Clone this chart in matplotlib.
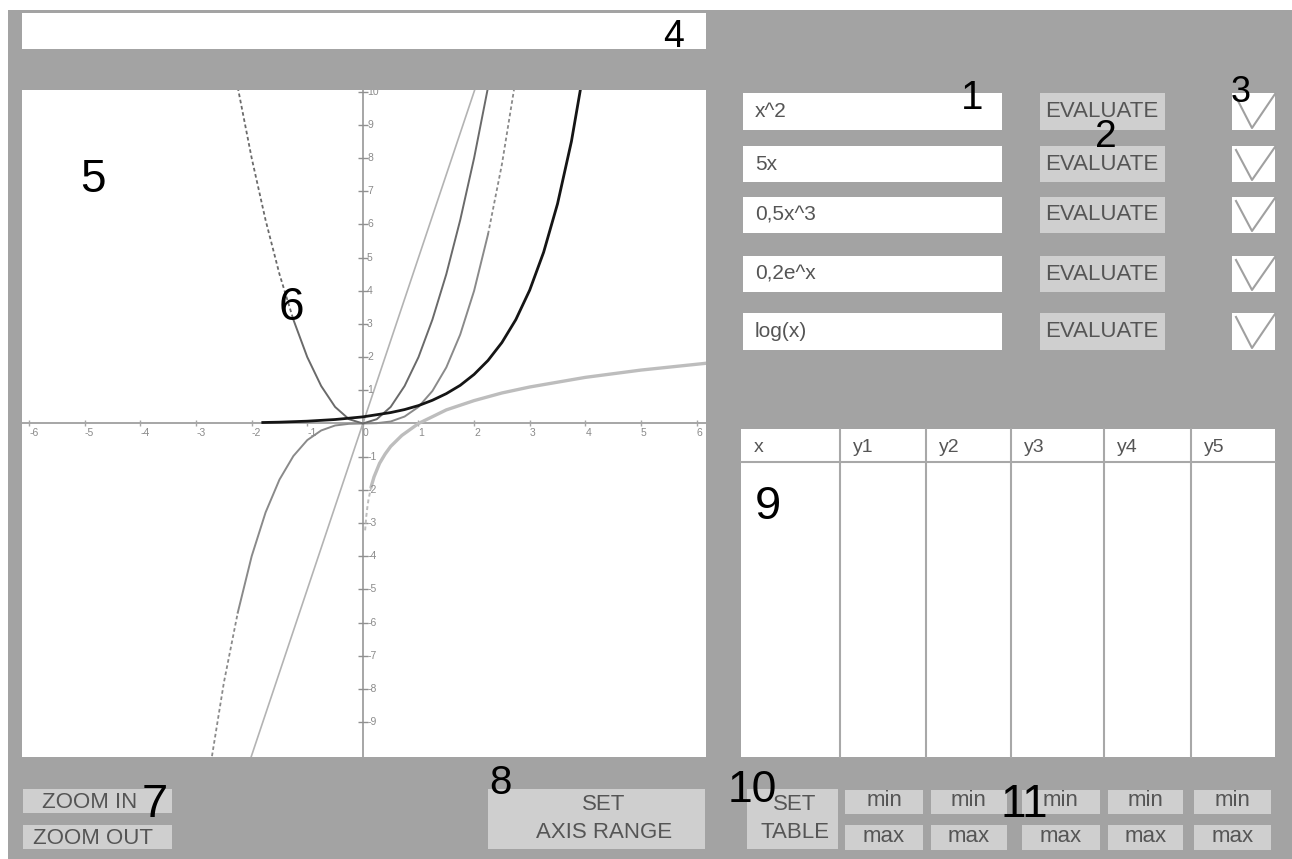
import matplotlib.pyplot as plt
from matplotlib.patches import Rectangle

plt.rcParams['font.family'] = ['Liberation Sans', 'DejaVu Sans']

# texts typed in the GUI
functions = ['x^2', '5x', '0,5x^3', '0,2e^x', 'log(x)']
table_headers = ['x', 'y1', 'y2', 'y3', 'y4', 'y5']
callouts = ['1', '2', '3', '4', '5', '6', '7', '8', '9', '10', '11']

x_ticks = [-6, -5, -4, -3, -2, -1, 0, 1, 2, 3, 4, 5, 6]
y_ticks = [-9, -8, -7, -6, -5, -4, -3, -2, -1, 1, 2, 3, 4, 5, 6, 7, 8, 9, 10]

# curves
y1_x = [-2.25, -2.0, -1.75, -1.5, -1.25, -1.0, -0.75, -0.5, -0.25, 0.0,
        0.25, 0.5, 0.75, 1.0, 1.25, 1.5, 1.75, 2.0, 2.25]
y1_y = [10.13, 8.0, 6.13, 4.5, 3.13, 2.0, 1.13, 0.5, 0.13, 0.0,
        0.13, 0.5, 1.13, 2.0, 3.13, 4.5, 6.13, 8.0, 10.13]

y2_x = [-2.1, 2.1]
y2_y = [-10.5, 10.5]

y3_x = [-2.75, -2.5, -2.25, -2.0, -1.75, -1.5, -1.25, -1.0, -0.75, -0.5, -0.25, 0.0,
        0.25, 0.5, 0.75, 1.0, 1.25, 1.5, 1.75, 2.0, 2.25, 2.5, 2.75]
y3_y = [-10.4, -7.81, -5.7, -4.0, -2.68, -1.69, -0.98, -0.5, -0.21, -0.06, -0.01, 0.0,
        0.01, 0.06, 0.21, 0.5, 0.98, 1.69, 2.68, 4.0, 5.7, 7.81, 10.4]

y4_x = [-1.8, -1.5, -1.0, -0.5, 0.0, 0.5, 0.75, 1.0, 1.25, 1.5, 1.75, 2.0,
        2.25, 2.5, 2.75, 3.0, 3.25, 3.5, 3.75, 4.0]
y4_y = [0.03, 0.04, 0.07, 0.12, 0.2, 0.33, 0.42, 0.54, 0.7, 0.9, 1.15, 1.48,
        1.9, 2.44, 3.13, 4.02, 5.16, 6.62, 8.5, 10.92]

y5_x = [0.04, 0.06, 0.08, 0.1, 0.15, 0.2, 0.3, 0.4, 0.5, 0.7, 1.0, 1.5,
        2.0, 2.5, 3.0, 4.0, 5.0, 6.2]
y5_y = [-3.22, -2.81, -2.53, -2.3, -1.9, -1.61, -1.2, -0.92, -0.69, -0.36, 0.0, 0.41,
        0.69, 0.92, 1.1, 1.39, 1.61, 1.82]

W, H = 1292, 859
BG = '#a3a3a3'
BTN = '#cfcfcf'
TXT = '#555555'
DOTS = (0, (2, 1.5))

fig = plt.figure(figsize=(W / 100, H / 100), dpi=100)
fig.patch.set_facecolor('white')

# background layer in pixel coordinates
bg = fig.add_axes([0, 0, 1, 1], zorder=0)
bg.set_xlim(0, W)
bg.set_ylim(H, 0)
bg.axis('off')


def box(ax, x0, y0, x1, y1, color, **kw):
    ax.add_patch(Rectangle((x0, y0), x1 - x0, y1 - y0, facecolor=color,
                           edgecolor='none', **kw))


box(bg, 8, 10, W, H, BG)
box(bg, 22, 13, 706, 49, 'white')

# function rows
rows = [(93, 130), (146, 182), (197, 233), (256, 292), (313, 350)]
for f, (top, bot) in zip(functions, rows):
    mid = (top + bot) / 2
    box(bg, 743, top, 1002, bot, 'white')
    bg.text(755, mid, f, fontsize=15, color=TXT, va='center', ha='left')
    box(bg, 1040, top, 1165, bot, BTN)
    bg.text(1102, mid, 'EVALUATE', fontsize=16, color=TXT, va='center', ha='center')
    box(bg, 1232, top, 1275, bot, 'white')
    bg.plot([1236, 1252, 1275], [top + 4, bot - 2, top + 1], color='#a0a0a0', lw=1.5)

# value table
box(bg, 741, 429, 1275, 757, 'white')
bg.plot([741, 1275], [462, 462], color='#a8a8a8', lw=1.5)
col_x = [741, 840, 926, 1011, 1104, 1191]
for cx, h in zip(col_x, table_headers):
    if cx > 741:
        bg.plot([cx, cx], [429, 757], color='#a8a8a8', lw=1.5)
    bg.text(cx + 13, 447, h, fontsize=14, color=TXT, va='center', ha='left')

# bottom buttons
box(bg, 23, 789, 172, 813, BTN)
bg.text(90, 802, 'ZOOM IN', fontsize=16, color=TXT, va='center', ha='center')
box(bg, 23, 825, 172, 849, BTN)
bg.text(93, 838, 'ZOOM OUT', fontsize=16, color=TXT, va='center', ha='center')
box(bg, 488, 789, 705, 849, BTN)
bg.text(604, 804, 'SET', fontsize=16, color=TXT, va='center', ha='center')
bg.text(604, 833, 'AXIS RANGE', fontsize=16, color=TXT, va='center', ha='center')
box(bg, 747, 789, 838, 849, BTN)
bg.text(795, 804, 'SET', fontsize=16, color=TXT, va='center', ha='center')
bg.text(795, 833, 'TABLE', fontsize=16, color=TXT, va='center', ha='center')
minmax_x = [(845, 923), (931, 1007), (1022, 1100), (1108, 1183), (1194, 1271)]
for x0, x1 in minmax_x:
    box(bg, x0, 790, x1, 814, BTN)
    bg.text((x0 + x1) / 2, 801, 'min', fontsize=16, color=TXT, va='center', ha='center')
    box(bg, x0, 825, x1, 850, BTN)
    bg.text((x0 + x1) / 2, 836, 'max', fontsize=16, color=TXT, va='center', ha='center')

# graph area
ax = fig.add_axes([22 / W, (H - 757) / H, 684 / W, 667 / H], zorder=1)
ax.set_facecolor('white')
ax.set_xlim(-6.13, 6.17)
ax.set_ylim(-10.05, 10.05)
for s in ax.spines.values():
    s.set_visible(False)
ax.set_xticks([])
ax.set_yticks([])

ax.axhline(0, color='#a6a6a6', lw=1.4, zorder=1)
ax.axvline(0, color='#a6a6a6', lw=1.4, zorder=1)
ax.plot(x_ticks, [0] * len(x_ticks), ls='none', marker='|', ms=5, color='#a6a6a6', zorder=1)
ax.plot([0] * len(y_ticks), y_ticks, ls='none', marker='_', ms=7, color='#909090', zorder=1)
for t in x_ticks:
    ax.annotate(str(t), (t, 0), xytext=(0, -3), textcoords='offset points',
                ha='left', va='top', fontsize=7.5, color='#8a8a8a', annotation_clip=False)
for t in y_ticks:
    ax.annotate(str(t), (0, t), xytext=(3, 0), textcoords='offset points',
                ha='left', va='center', fontsize=7.5, color='#8a8a8a', clip_on=True)

# steep ends look dotted in the original plotter, the rest is solid
ax.plot(y5_x[4:], y5_y[4:], color='#bdbdbd', lw=2.4, zorder=2)
ax.plot(y5_x[:5], y5_y[:5], color='#bdbdbd', lw=1.4, ls=DOTS, zorder=2)
ax.plot(y2_x, y2_y, color='#b3b3b3', lw=1.2, zorder=2)
ax.plot(y3_x[2:-2], y3_y[2:-2], color='#8a8a8a', lw=1.4, zorder=3)
ax.plot(y3_x[:3], y3_y[:3], color='#8a8a8a', lw=1.3, ls=DOTS, zorder=3)
ax.plot(y3_x[-3:], y3_y[-3:], color='#8a8a8a', lw=1.3, ls=DOTS, zorder=3)
ax.plot(y1_x[4:], y1_y[4:], color='#6a6a6a', lw=1.4, zorder=3)
ax.plot(y1_x[:5], y1_y[:5], color='#6a6a6a', lw=1.3, ls=DOTS, zorder=3)
ax.plot(y4_x, y4_y, color='#151515', lw=2.0, zorder=4)

# numbered callouts on top
lab = fig.add_axes([0, 0, 1, 1], zorder=2)
lab.set_xlim(0, W)
lab.set_ylim(H, 0)
lab.axis('off')
lab.patch.set_alpha(0)
callout_xy = [(972, 98), (1106, 137), (1241, 92), (674, 37), (93, 180), (291, 308),
              (155, 805), (500, 783), (768, 507), (752, 790), (1024, 805)]
callout_size = [29, 28, 26, 27, 33, 33, 34, 29, 34, 32, 33]
for c, (cx, cy), fs in zip(callouts, callout_xy, callout_size):
    lab.text(cx, cy, c, fontsize=fs, color='black', ha='center', va='center')

fig.savefig('out.png', dpi=100)
